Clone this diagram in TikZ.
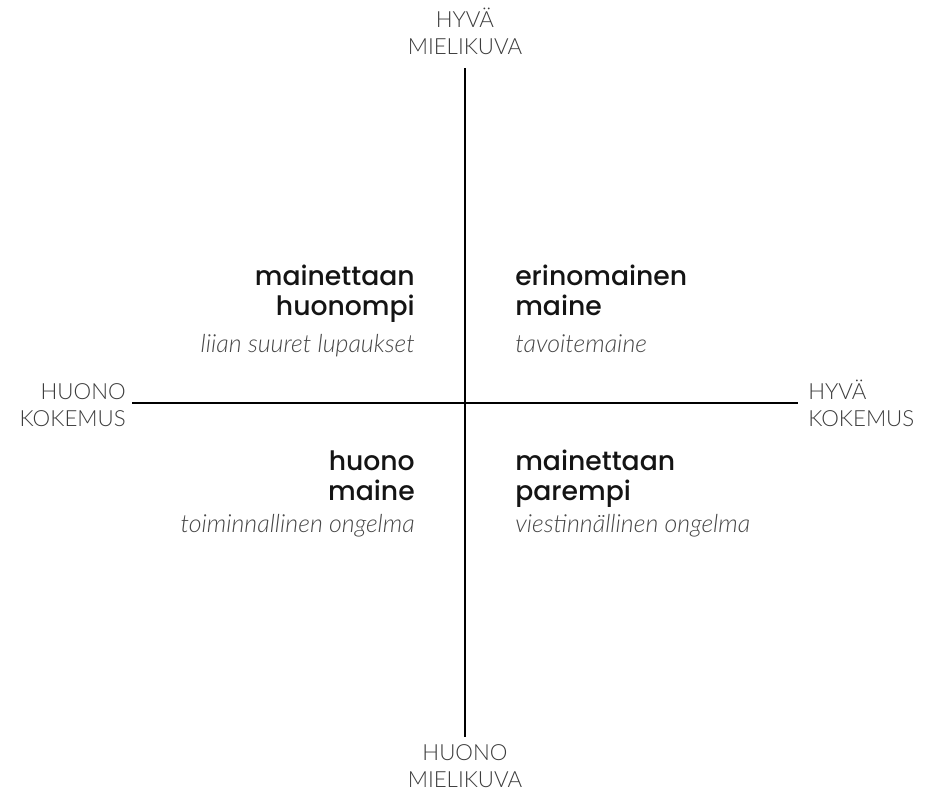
\documentclass[tikz,border=0pt]{standalone}
\usepackage{fontspec}
\usepackage{xcolor}
\usetikzlibrary{positioning}
\newfontfamily\axisfont{Lato}[UprightFont=* Light, ItalicFont=* Light Italic]
\newfontfamily\quadfont{Poppins}[UprightFont=* Medium]
\definecolor{axisgray} {RGB}{60, 60, 60}
\definecolor{titleblack}{RGB}{20, 20, 20}
\definecolor{notegray} {RGB}{70, 70, 70}
\tikzset{
  axisline/.style={draw=black, line width=1.3pt},
  axislabel/.style={
    font=\axisfont\fontsize{16.7}{20}\selectfont, text=axisgray,
    inner sep=0pt, align=center
  },
  quadtitle/.style={
    font=\quadfont\fontsize{20}{22.5}\selectfont, text=titleblack,
    inner sep=0pt
  },
  quadnote/.style={
    font=\axisfont\itshape\fontsize{18.7}{22}\selectfont, text=notegray,
    inner sep=0pt
  },
}
\begin{document}
\begin{tikzpicture}[x=0.75pt, y=-0.75pt]
  \useasboundingbox (0,0) rectangle (935,793);

  % Axis ends
  \coordinate (top) at (465,68);
  \coordinate (bottom) at (465,737);
  \coordinate (left) at (132,403);
  \coordinate (right) at (798,403);

  % Axes
  \draw[axisline] (top) -- (bottom);
  \draw[axisline] (left) -- (right);

  % Axis labels (base = last line)
  \node[axislabel, anchor=base] (goodimage) at (465,54) {HYVÄ\\MIELIKUVA};
  \node[axislabel, anchor=base] (badimage) at (465,787) {HUONO\\MIELIKUVA};
  \node[axislabel, anchor=base east, align=right] (badexp) at (126,426)
    {HUONO\\KOKEMUS};
  \node[axislabel, anchor=base west, align=left] (goodexp) at (808,426)
    {HYVÄ\\KOKEMUS};

  % Quadrants
  \node[quadtitle, align=right, anchor=base east] (tltitle) at (415,315)
    {mainettaan\\huonompi};
  \node[quadnote, anchor=base east] (tlnote) at (415,352)
    {liian suuret lupaukset};

  \node[quadtitle, align=left, anchor=base west] (trtitle) at (515,315)
    {erinomainen\\maine};
  \node[quadnote, anchor=base west] (trnote) at (515,352)
    {tavoitemaine};

  \node[quadtitle, align=right, anchor=base east] (bltitle) at (415,500)
    {huono\\maine};
  \node[quadnote, anchor=base east] (blnote) at (415,532)
    {toiminnallinen ongelma};

  \node[quadtitle, align=left, anchor=base west] (brtitle) at (515,500)
    {mainettaan\\parempi};
  \node[quadnote, anchor=base west] (brnote) at (515,532)
    {viestinnällinen ongelma};
\end{tikzpicture}
\end{document}
